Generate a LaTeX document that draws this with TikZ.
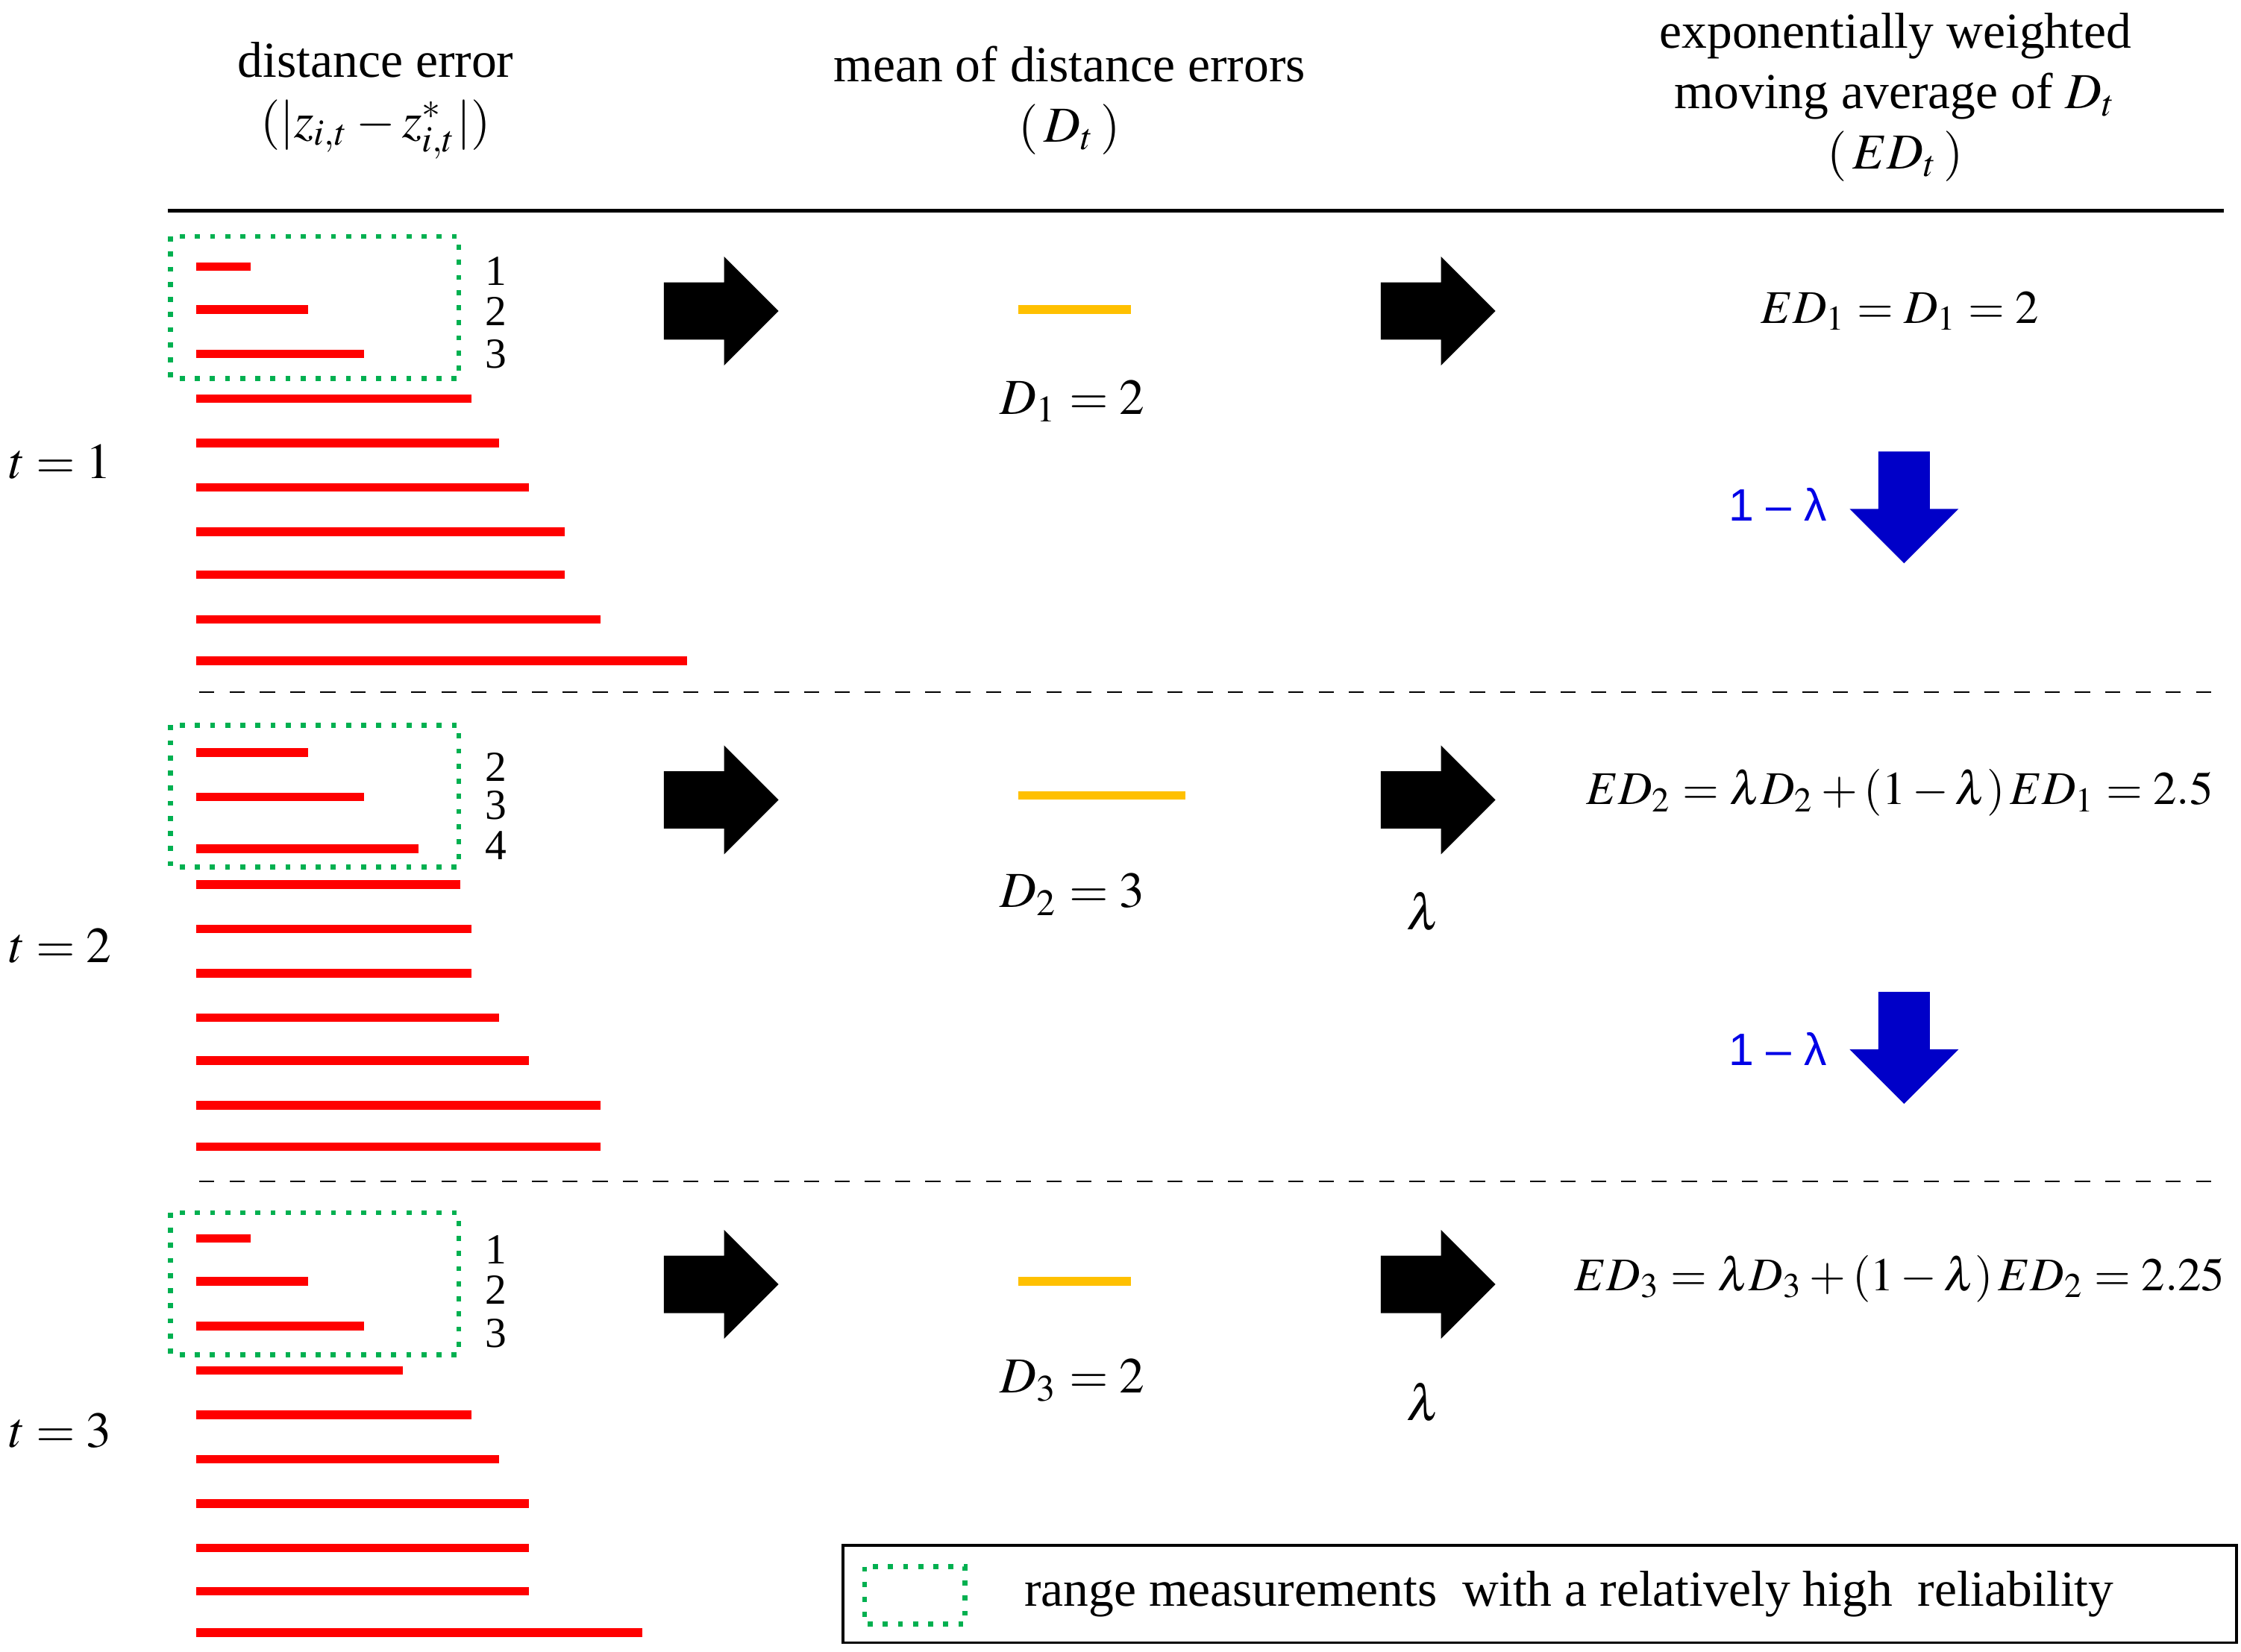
\documentclass[tikz,border=0pt]{standalone}
\usepackage{mathptmx}
\usepackage{fontspec}
\setmainfont{Liberation Serif}
\newfontfamily\sansf{Liberation Sans}
\begin{document}
\begin{tikzpicture}[x=0.01cm,y=-0.01cm,
  bar/.style={red,line width=0.06cm},
  obar/.style={color={rgb,255:red,255;green,192;blue,0},line width=0.06cm},
  gbox/.style={color={rgb,255:red,0;green,176;blue,80},line width=0.035cm,dotted},
  lab/.style={font=\fontsize{10}{12}\selectfont},
  frm/.style={font=\fontsize{9.3}{11}\selectfont},
  num/.style={font=\fontsize{8.5}{10}\selectfont},
  blk/.style={fill=black,draw=none},
  blu/.style={fill={rgb,255:red,0;green,0;blue,200},draw=none}]
\useasboundingbox (0,0) rectangle (1563,1152);
% headers
\node[lab,align=center] (h1) at (262,70) {distance error\\$(|z_{i,t}-z^*_{i,t}|)$};
\node[lab,align=center] (h2) at (746,70) {mean of distance errors\\$(\,D_t\,)$};
\node[lab,align=center] (h3) at (1322,68) {exponentially weighted\\moving average of $D_t$\\$(\,ED_t\,)$};
\draw[line width=0.03cm] (117,147) -- (1551,147);
\draw[dashed,line width=0.012cm] (139,483) -- (1551,483);
\draw[dashed,line width=0.012cm] (139,824) -- (1551,824);
% bars
\foreach \y/\e in {186/175,216/215,247/254,278/329,309/348,340/369,371/394,401/394,432/419,461/479,
  525/215,556/254,592/292,617/321,648/329,679/329,710/348,740/369,771/419,800/419,
  864/175,894/215,925/254,956/281,987/329,1018/348,1049/369,1080/369,1110/369,1139/448}
  \draw[bar] (137,\y) -- (\e,\y);
\foreach \y in {165,506,846} \draw[gbox] (119,\y) rectangle (320,\y+99);
\foreach \y/\t in {189/1,217/2,247/3,535/2,562/3,590/4,872/1,900/2,930/3}
  \node[num] at (346,\y) {\t};
\foreach \y/\t in {322/1,660/2,998/3} \node[lab] at (42,\y) {$t=\t$};
% black arrows
\foreach \x in {463,963} \foreach \y in {217,558,896}
  \fill[blk] (\x,\y-20) -- (\x+42,\y-20) -- (\x+42,\y-38) -- (\x+80,\y) -- (\x+42,\y+38) -- (\x+42,\y+20) -- (\x,\y+20) -- cycle;
% orange
\draw[obar] (710,216) -- (789,216);
\draw[obar] (710,555) -- (827,555);
\draw[obar] (710,894) -- (789,894);
\node[lab] at (748,280) {$D_1=2$};
\node[lab] at (748,624) {$D_2=3$};
\node[lab] at (748,963) {$D_3=2$};
\node[lab] at (993,636) {$\lambda$};
\node[lab] at (993,978) {$\lambda$};
\node[frm] at (1325,217) {$ED_1=D_1=2$};
\node[frm] at (1325,553) {$ED_2=\lambda D_2+\left(1-\lambda\right)ED_1=2.5$};
\node[frm] at (1325,892) {$ED_3=\lambda D_3+\left(1-\lambda\right)ED_2=2.25$};
% blue arrows
\foreach \y in {315,692}
  \fill[blu] (1310,\y) -- (1346,\y) -- (1346,\y+40) -- (1366,\y+40) -- (1328,\y+78) -- (1290,\y+40) -- (1310,\y+40) -- cycle;
\node[text={rgb,255:red,0;green,0;blue,230},font=\sansf\fontsize{9}{11}\selectfont] at (1240,352) {1 – λ};
\node[text={rgb,255:red,0;green,0;blue,230},font=\sansf\fontsize{9}{11}\selectfont] at (1240,732) {1 – λ};
% legend
\draw[line width=0.02cm] (588,1078) rectangle (1560,1146);
\draw[gbox] (603,1093) rectangle (673,1133);
\node[lab,anchor=west] at (702,1112) {range measurements\ \ with a relatively high\ \ reliability};
\end{tikzpicture}
\end{document}
